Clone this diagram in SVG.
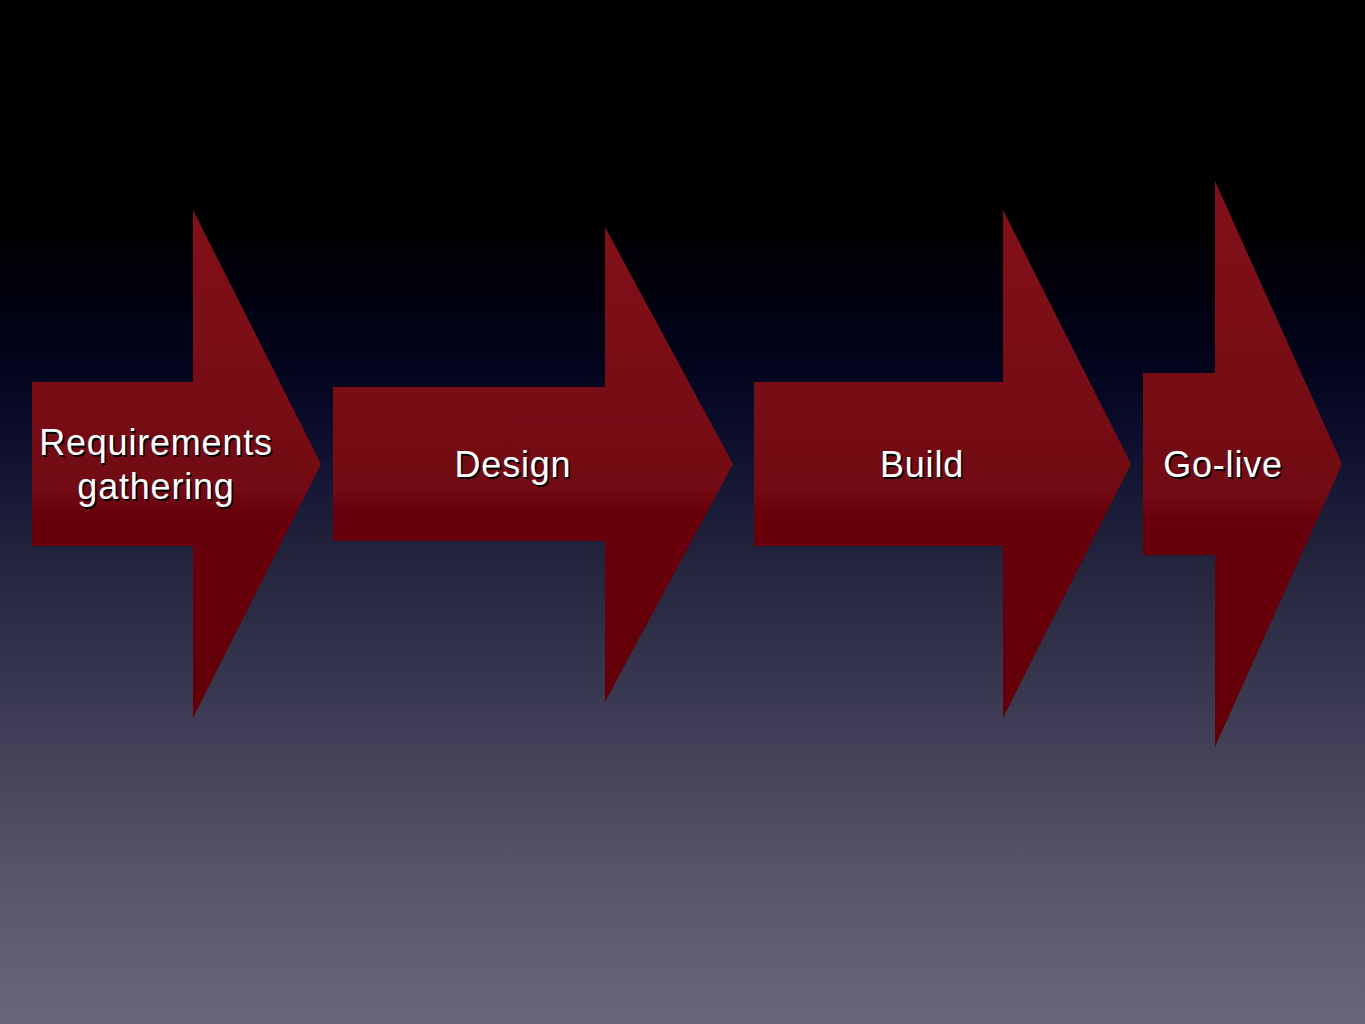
<svg xmlns="http://www.w3.org/2000/svg" width="1365" height="1024" viewBox="0 0 1365 1024">
<style>
.arrow{fill:url(#ag);}
.lbl{font-family:"Liberation Sans",Arial,sans-serif;font-size:36px;letter-spacing:0.8px;fill:#ffffff;text-anchor:middle;}
.sh{font-family:"Liberation Sans",Arial,sans-serif;font-size:36px;letter-spacing:0.8px;fill:#000000;text-anchor:middle;}
</style>
<defs>
<linearGradient id="bg" x1="0" y1="0" x2="0" y2="1">
<stop offset="0" stop-color="#000000"/>
<stop offset="0.22" stop-color="#000001"/>
<stop offset="0.33" stop-color="#010216"/>
<stop offset="0.42" stop-color="#0b0d2b"/>
<stop offset="0.5" stop-color="#1b1c37"/>
<stop offset="0.56" stop-color="#26263f"/>
<stop offset="0.7" stop-color="#3d3c54"/>
<stop offset="0.85" stop-color="#555468"/>
<stop offset="1" stop-color="#67667a"/>
</linearGradient>
<linearGradient id="ag" x1="0" y1="0" x2="0" y2="1">
<stop offset="0" stop-color="#821019"/>
<stop offset="0.55" stop-color="#720b13"/>
<stop offset="0.6" stop-color="#68000c"/>
<stop offset="1" stop-color="#620008"/>
</linearGradient>
</defs>
<rect x="0" y="0" width="1365" height="1024" fill="url(#bg)"/>
<g id="connectors"></g>
<g id="node-requirements">
<polygon class="arrow" points="32,382 193,382 193,210 321,464 193,718 193,546 32,546"/>
<text class="sh" x="157.5" y="456.5">Requirements</text>
<text class="sh" x="157.5" y="500.5">gathering</text>
<text class="lbl" x="156" y="455">Requirements</text>
<text class="lbl" x="156" y="499">gathering</text>
</g>
<g id="node-design">
<polygon class="arrow" points="333,387 605,387 605,227 733,464 605,702 605,541 333,541"/>
<text class="sh" x="514.5" y="478.5">Design</text>
<text class="lbl" x="513" y="477">Design</text>
</g>
<g id="node-build">
<polygon class="arrow" points="754,382 1003,382 1003,210 1131,464 1003,718 1003,546 754,546"/>
<text class="sh" x="923.5" y="478.5">Build</text>
<text class="lbl" x="922" y="477">Build</text>
</g>
<g id="node-golive">
<polygon class="arrow" points="1143,373 1215,373 1215,181 1342,464 1215,747 1215,555 1143,555"/>
<text class="sh" x="1224.5" y="478.5">Go-live</text>
<text class="lbl" x="1223" y="477">Go-live</text>
</g>
</svg>
